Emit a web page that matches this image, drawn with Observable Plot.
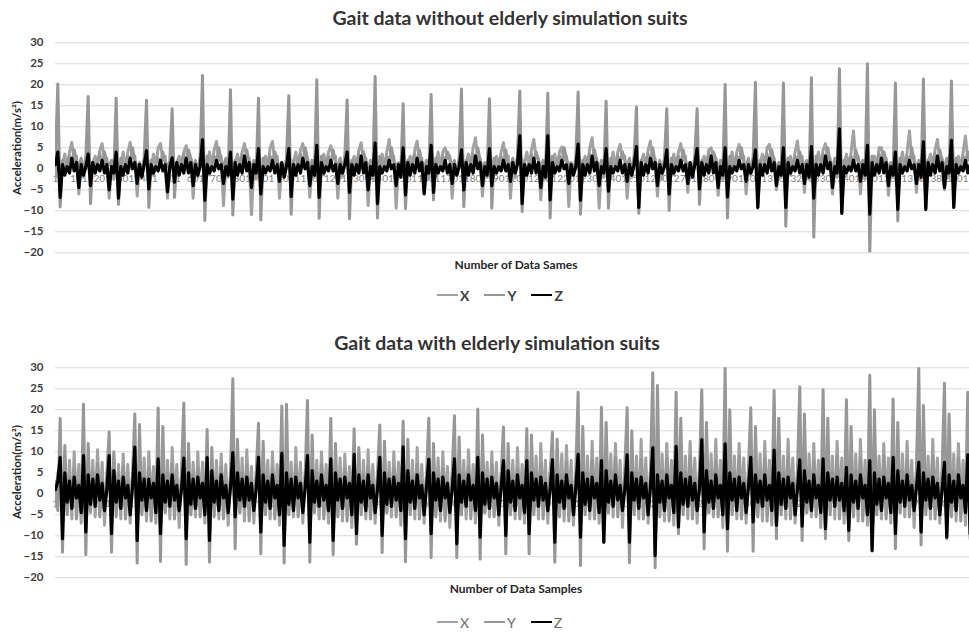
<!DOCTYPE html>
<html><head><meta charset="utf-8">
<script src="https://cdn.jsdelivr.net/npm/d3@7"></script>
<script src="https://cdn.jsdelivr.net/npm/@observablehq/plot@0.6"></script>
<style>
body{margin:0;background:#fff;}
#wrap{position:relative;width:969px;height:633px;overflow:hidden;font-family:Lato,"Liberation Sans",sans-serif;}
.c{position:absolute;transform:translate(-50%,-50%);white-space:nowrap;}
.title{font-size:19.5px;font-weight:bold;color:#333333;}
.ytitle{font-size:11.5px;font-weight:bold;color:#262626;transform:translate(-50%,-50%) rotate(-90deg);}
.xtitle{font-size:12px;font-weight:bold;color:#262626;}
.leg{position:absolute;display:flex;align-items:center;font-size:14px;}
.leg span.ln{display:inline-block;width:21px;height:2.5px;margin:0 2px 0 0;}
.leg span.lb{margin-right:15px;}
.svgbox{position:absolute;left:0;}
</style></head><body><div id="wrap"></div>
<script>
// sample spacing between stored readings (every 10th sample)
const sampleStep = 10;
const yTicks = [-20, -15, -10, -5, 0, 5, 10, 15, 20, 25, 30];
const xTickSamples = [1,101,201,301,401,501,601,701,801,901,1001,1101,1201,1301,1401,1501,1601,1701,1801,1901,2001,2101,2201,2301,2401,2501,2601,2701,2801,2901,3001,3101,3201,3301,3401,3501,3601,3701,3801,3901];
const seriesNames = ["X", "Y", "Z"];

// ---- Gait data without elderly simulation suits ----
const topX = [-2,
4.5,-3,1,3.5,0,4,6.3,2,3,-6,1,-2,2,
5,-2.5,1.5,3,0.5,4.5,6,1.5,2.5,-7,0.5,-2.5,
4,-3.5,1,4,0,4,6.3,2.5,3,-6.5,1,-1.5,2,
5.5,-3,0.5,3.5,0.5,5,6,2,3,-7,0.5,
4,-2.5,1.5,3,0,4,5.5,1.5,2.5,-7,1,-2,2.5,
7,-4,1,4,0.5,4.5,6.5,2,3,-8.8,1,-2,
6,-3.5,1.5,3.5,0,4,6,2.5,2.5,-10.9,0.5,-2.5,
5,-3,1,3,0.5,5,6.5,1.5,3,-7,1,-1.5,2,
5.5,-3.5,1.5,4,0,4.5,6,2,2.5,-6.8,0.5,-2,
6,-4,1,3.5,0.5,4,5.5,2.5,3,-7,1,-2,2.5,
5,-3,1.5,3,0,4.5,6.2,1.5,2.5,-8.8,0.5,-2.5,
8,-4,1,3.5,0,4,7,2,3,-9.4,1,-2,
5,-3,1.5,3,0.5,4.5,6.6,1.5,2.5,-5.6,0.5,-2.5,
5.5,-3.5,1,4,0,4,5,2.5,3,-7,1,-1.5,2,
6,-3,1.5,3.5,0.5,5,7.4,2,2.5,-6.5,0.5,-2,
5,-3.5,1,3,0,4,6.2,1.5,3,-7,1,-2,2.5,
7,-4,1.5,4,0.5,4.5,7,2.5,2.5,-7.4,0.5,-2.5,
6.5,-3,1,3.5,0,4,5.2,2,3,-9,1,-1.5,2,
6,-3.5,1.5,3,0.5,5,7.4,1.5,2.5,-9.4,0.5,-2,
5,-3,1,4,0,4,5.8,2.5,3,-7,1,-2,2.5,
5.5,-4,1.5,3.5,0.5,4.5,6.6,2,2.5,-6.5,0.5,-2.5,2,
5,-3,1,3.5,0,4,6,2,3,-5.6,1,-2,2,
5.5,-3.5,1.5,3,0.5,4.5,5,1.5,2.5,-6.3,0.5,-2.5,
7,-3,1,4,0,4,5.8,2.5,3,-6,1,-1.5,2.5,
6,-4,1.5,3.5,0.5,5,5.8,2,2.5,-5,0.5,-2,
11.5,-3,1,3,0,4,6.6,1.5,3,-5.6,1,-2.5,
8,-3.5,1.5,4,0.5,4.5,6,2.5,2.5,-6,0.5,-2,
9.4,-3,1,3.5,0,4,9,2,3,-6,1,-2.5,
11.5,-4,1.5,3,0.5,5,5,1.5,2.5,-6.3,0.5,-2,
7,-3,1,4,0,4,9,2.5,3,-5.6,1,-2.5,
8,-3.5,1.5,3.5,0.5,4.5,7,2,2.5,-5,0.5,-2,
12.3,-3,1,3,0,4,7.8,2,3];

const topY = [3,
20.2,-9.1,2,-1,1.5,3,1,4.5,2,0.5,2.5,-1,3,
17.2,-8.3,1.5,-0.5,2,3.5,0.5,4,1.5,1,2,-1.5,
16.8,-8.5,2.5,-1,1,3,1.5,5,2,0,1.5,-0.5,2.5,
16.3,-9.2,2,-1.5,1.5,2.5,1,4,1.5,0.5,2,
14.3,-6.8,1.5,-1,2,3.5,0.5,4.5,2.5,0,2,-1,3,
22.2,-12.3,3,-1.5,1,3,1.5,5,2,0.5,2.5,-1.5,
18.8,-11,2,-1,1.5,3.5,1,4.5,1.5,0,2,-1,
16.8,-12.2,2.5,-0.5,1,3,1.5,4,2,0.5,1.5,-1.5,2.5,
17.4,-10.8,2,-1,2,3.5,0.5,5,2.5,0,2,-1,
21.2,-11.8,3,-1.5,1.5,3,1,4.5,1.5,0.5,2.5,-1,3,
16.4,-11.9,2,-1,1,3.5,1.5,4,2,0,2,-1.5,
22,-11.7,3,-1,1.5,3,1,5,2,0.5,1.5,-1,
15.5,-9.5,2,-1.5,2,3.5,0.5,4.5,1.5,0,2,-1,
17.7,-7.4,2.5,-1,1,3,1.5,4,2.5,0.5,2,-1.5,2.5,
19,-9,2,-0.5,1.5,3.5,1,5,2,0,1.5,-1,
16.7,-9.4,2.5,-1,2,3,0.5,4.5,1.5,0.5,2.5,-1,3,
18.5,-10.2,2,-1.5,1,3.5,1.5,4,2,0,2,-1.5,
18,-11.7,3,-1,1.5,3,1,5,2.5,0.5,1.5,-1,2.5,
18.3,-10.8,2,-1,2,3.5,0.5,4.5,1.5,0,2,-1,
16.1,-9.4,2.5,-0.5,1,3,1.5,4,2,0.5,2.5,-1.5,3,
14.7,-10.6,2,-1,1.5,3.5,1,5,1.5,0,2,-1,2.5,
14.3,-9.9,2.5,-1.5,2,3,0.5,4.5,2,0.5,1.5,-1,3,
14.3,-8.5,2,-1,1,3.5,1.5,4,2.5,0,2,-1.5,
20.1,-11.7,3,-1,1.5,3,1,5,1.5,0.5,2.5,-1,2.5,
20.6,-9.4,2,-0.5,2,3.5,0.5,4.5,2,0,1.5,-1,
20.4,-13.7,2.5,-1.5,1,3,1.5,4,2,0.5,2,-1.5,
21.7,-16.3,3,-1,1.5,3.5,1,5,1.5,0,2.5,-1,
23.8,-10.6,2,-1,2,3,0.5,4.5,2.5,0.5,2,-1.5,
25,-20,3,-1.5,1,3.5,1.5,4,2,0,1.5,-1,
20.4,-12.4,2.5,-1,1.5,3,1,5,1.5,0.5,2,-1.5,
21.4,-9.5,2,-0.5,2,3.5,0.5,4.5,2,0,2.5,-1,
20.9,-8.7,2.5,-1,1,3,1.5,4,2];

const topZ = [1,
4,-6.8,1,-1.5,0.5,-1,2.5,-0.5,1.5,-4.5,1,-1.5,0.5,
3.5,-4,1.5,-1,1,-0.5,2,-1,1,-5,0.5,-1,
4,-7,0.5,-1.5,1,-1,2.5,0,1.5,-3.5,1,-2,1,
4.3,-4.8,1,-1,0.5,-0.5,2,-0.5,1,-5.5,0.5,
2.6,-3.2,1.5,-1.5,1,-1,2.5,-1,1.5,-4,1,-1.5,0.5,
6.9,-7.5,1,-1,0.5,-0.5,2,0,1,-3.5,0.5,-1.5,
4,-7.2,1.5,-1.5,1,-1,3,-0.5,1.5,-4.5,1,-1,
4.8,-6,0.5,-1,0.5,-0.5,2,-1,1,-3,1.5,-2,0.5,
4.8,-6.6,1,-1.5,1,-1,2.5,0,1.5,-4,0.5,-1.5,
5.6,-6.8,1.5,-1,0.5,-0.5,2,-0.5,1,-3.5,1,-1,1,
4,-5.6,1,-1.5,1,-1,3,-1,1.5,-5,0.5,-1.5,
6.1,-8.3,0.5,-1,0.5,-0.5,2,0,1,-4,1,-2,
5,-6.2,1.5,-1.5,1,-1,2.5,-0.5,1.5,-6,0.5,-1,
5.6,-5.6,1,-1,0.5,-0.5,2,-1,1,-3.5,1,-1.5,0.5,
4.5,-5,1.5,-1.5,1,-1,3,0,1.5,-4,0.5,-1.5,
4.8,-4,0.5,-1,0.5,-0.5,2,-0.5,1,-3,1.5,-1,1,
7.9,-8.3,1,-1.5,1,-1,2.5,-1,1.5,-4.5,0.5,-2,
7.9,-7.4,1.5,-1,0.5,-0.5,2,0,1,-3.5,1,-1.5,0.5,
5.9,-7.5,1,-1.5,1,-1,3,-0.5,1.5,-4,0.5,-1,
4.8,-5.3,0.5,-1,0.5,-0.5,2,-1,1,-3,1,-1.5,1,
5.3,-9.2,1.5,-1.5,1,-1,2.5,0,1.5,-4,1,-1,0.5,
4.5,-6,1,-1,0.5,-0.5,2,-0.5,1,-3.5,1.5,-2,1,
4.8,-4.8,1.5,-1.5,1,-1,3,-1,1.5,-4.5,0.5,-1.5,
5,-6.7,0.5,-1,0.5,-0.5,2,0,1,-3,1,-1,0.5,
4.5,-9.2,1,-1.5,1,-1,2.5,-0.5,1.5,-4,0.5,-1.5,
5,-9.2,1.5,-1,0.5,-0.5,2,-1,1,-3.5,1,-2,
5.3,-7,1,-1.5,1,-1,3,0,1.5,-4.5,0.5,-1,
9.5,-10.6,0.5,-1,0.5,-0.5,2,-0.5,1,-3,1,-1.5,
5.6,-10.8,1.5,-1.5,1,-1,2.5,-1,1.5,-4,0.5,-1.5,
4,-9.7,1,-1,0.5,-0.5,2,0,1,-3.5,1,-2,
6.4,-9.7,1.5,-1.5,1,-1,3,-0.5,1.5,-4.5,0.5,-1,
6.8,-9.2,1,-1,0.5,-0.5,2,-1,1];

// ---- Gait data with elderly simulation suits ----
const botX = [-3,5,
7,-7,9,-4,8,-6,10,-3,7,-7,
6,-6.5,8.5,-4.5,8,-5.5,10.5,-3,7.5,-7.5,4,
7.5,-7,9,-4,7,-6,9.5,-3.5,7,-7,4.5,
8,-7.5,8,-4.5,8.5,-6.5,10,-3,6.5,-7,
6.5,-7,9.5,-4,8,-6,11,-3,7,-8,4,
7,-6.5,9,-4.5,7.5,-5.5,10,-3.5,7.5,-7,
7.5,-7,8.5,-4,8,-6,9.5,-3,7,-7.5,4.5,
6,-7.5,9,-4.5,8.5,-6.5,10.5,-3,6.5,-7,4,
7,-7,9.5,-4,8,-6,10,-3.5,7,-7.5,
8,-6.5,9,-4.5,7.5,-5.5,11,-3,7.5,-7,4.5,
6.5,-7,8.5,-4,8,-6,10,-3,7,-7,
7.5,-7.5,9,-4.5,8.5,-6.5,9.5,-3.5,6.5,-8,
7,-7,9.5,-4,8,-6,10.5,-3,7,-7,4,
6,-6.5,9,-4.5,7.5,-5.5,10,-3,7.5,-7.5,
7.5,-7,8.5,-4,8,-6,11,-3.5,7,-7,4.5,
8,-7.5,9,-4.5,8.5,-6.5,10,-3,6.5,-8,4,
7,-7,9.5,-4,8,-6,10.5,-3,7,-7,
6.5,-6.5,9,-4.5,7.5,-5.5,10,-3.5,7.5,-7.5,4.5,
7.5,-7,8.5,-4,8,-6,11,-3,7,-7,
8,-7,10,-4,9,-6,12,-3,8,-7,5,
7.5,-7.5,10.5,-4.5,9.5,-6.5,11.5,-3.5,8,-7.5,4.5,
8.5,-7,10,-4,9,-6,12.5,-3,8.5,-7,
8,-6.5,11,-4.5,9.5,-5.5,12,-3,8,-8,5,
9,-7,10.5,-4,9,-6,13,-3.5,8.5,-7,5,
8,-7.5,10,-4.5,9.5,-6.5,12,-3,8,-7.5,
9,-7,11,-4,9,-6,12.5,-3,8.5,-7,4.5,
8.5,-6.5,10,-4.5,9.5,-5.5,13,-3.5,8,-8,
8,-7,10.5,-4,9,-6,12,-3,8.5,-7,5,
9,-7.5,11,-4.5,9.5,-6.5,12.5,-3,8,-7.5,
8.5,-7,10,-4,9,-6,13,-3.5,8.5,-7,4.5,
8,-6.5,10.5,-4.5,9.5,-5.5,12,-3,8,-8,
9,-7,11,-4,9,-6,12.5,-3,8.5,-7,
8.5,-7.5,10,-4.5,9.5,-6.5,13,-3.5,8,-7.5,
8,-7,10.5,-4,9,-6,12,-3,8.5,-7,
9,-7,11,-4.5,9.5,-5.5,12.5,-3,8,-8,5,
8.5,-6.5,10,-4,9,-6,13,-3.5,8.5,-7,4.5,
8,-7.5,10.5,-4.5,9.5,-6.5,12,-3,8,-7.5,
9,-7];

const botY = [3,-4,
17.9,-13.9,11.5,-5,4,-3,6,-6,3,-4,
21.3,-14.5,12,-4,5,-2.5,7,-5.5,3.5,-4.5,5,
14.7,-13.9,10,-5.5,4.5,-3,6.5,-6,3,-4,4.5,
19,-16.5,16.5,-5,4,-3.5,6,-6.5,3,-4,
20.4,-16.1,16,-4.5,5,-3,7,-6,3.5,-4.5,5,
21.6,-16.8,12,-5,4.5,-2.5,6,-5.5,3,-4,
15.3,-16.3,11,-5.5,4,-3,6.5,-6,3,-5,4.5,
27.4,-13.1,13,-4.5,5,-3.5,7,-6.5,3.5,-4,5,
16.8,-14.3,12.5,-5,4,-3,6,-6,3,-4.5,
20.9,-16.5,21.3,-5,4.5,-2.5,6.5,-5.5,3,-4,4.5,
22.2,-16.3,14,-4.5,5,-3,7,-6,3.5,-4.5,
18,-14.5,12,-5.5,4,-3.5,6,-6.5,3,-4,
15.5,-12,11,-5,4.5,-3,6.5,-6,3,-5,5,
16.4,-14,12.5,-4.5,5,-2.5,6,-5.5,3.5,-4,
17.3,-16.2,13,-5,4,-3,7,-6,3,-4.5,4.5,
18,-15.2,12,-5.5,4.5,-3.5,6,-6.5,3,-4,5,
18.6,-15.2,13.5,-5,5,-3,6.5,-6,3.5,-4.5,
20.2,-15.6,14,-4.5,4,-2.5,7,-5.5,3,-4,4.5,
15.9,-14.3,12,-5,4.5,-3,6,-6,3,-5,
15.5,-14.3,14,-5,5,-3,7,-6,3.5,-4.5,5,
14.7,-16.3,13,-5.5,4.5,-3.5,7.5,-6.5,3,-4,5.5,
24.2,-17.1,16,-5,5,-3,8,-6,3.5,-4.5,
20.6,-11.5,17,-4.5,5.5,-2.5,8.5,-5.5,4,-4,6,
20.5,-16.4,15,-5,5,-3,8,-6,3.5,-5,5.5,
28.8,-17.6,25.8,-5.5,5.5,-3.5,8.5,-6.5,4,-4.5,
24.2,-9.5,18,-5,5,-3,9,-6,3.5,-4,6,
24.8,-13.1,17,-4.5,5.5,-2.5,8,-5.5,4,-4.5,
30,-13.7,20,-5,5,-3,9,-6,3.5,-5,6,
20.5,-13.7,16,-5.5,5.5,-3.5,8.5,-6.5,4,-4,
24.6,-10.7,18,-5,5,-3,9,-6,3.5,-4.5,5.5,
25.5,-11.1,19,-4.5,5.5,-2.5,8,-5.5,4,-4,
24.8,-10.7,18,-5,5,-3,9,-6,3.5,-5,
22.4,-11.1,16,-5.5,5.5,-3.5,8.5,-6.5,4,-4.5,
28.2,-13.7,20,-5,5,-3,9,-6,3.5,-4,
22.6,-13.1,17,-4.5,5.5,-2.5,8,-5.5,4,-4.5,6,
30,-12.2,21,-5,5,-3,9,-6,3.5,-5,5.5,
26.3,-10.7,19,-5.5,5.5,-3.5,8.5,-6.5,4,-4,
24.2,-10.7];

const botZ = [1,3,
8.6,-10.7,5,-2,3,-3.5,4,-1,2,-4.5,
9.1,-9.1,4.5,-2.5,3.5,-3,4.5,-1.5,2.5,-4,1,
9.1,-9.5,5.5,-2,3,-3.5,4,-1,2,-5,1.5,
11.1,-11.1,5,-1.5,3.5,-4,3.5,-1,2.5,-4.5,
8.3,-9.5,4.5,-2,3,-3,4.5,-1.5,2,-4,1,
8.5,-10.7,5,-2.5,3.5,-3.5,4,-1,2.5,-5,
8.6,-11.1,5.5,-2,3,-4,4.5,-1,2,-4.5,1.5,
9.8,-5.5,5,-1.5,3.5,-3,4,-1.5,2.5,-4,1,
8.7,-9.1,4.5,-2,3,-3.5,4.5,-1,2,-5,
9.7,-12.3,5,-2.5,3.5,-4,4,-1,2.5,-4.5,1.5,
9.1,-11.5,5.5,-2,3,-3,4.5,-1.5,2,-4,
8.3,-11.1,5,-1.5,3.5,-3.5,4,-1,2.5,-5,
9.4,-9.5,4.5,-2,3,-4,4.5,-1,2,-4.5,1,
8.7,-9.9,5,-2.5,3.5,-3,4,-1.5,2.5,-4,
11.2,-10.7,5.5,-2,3,-3.5,4.5,-1,2,-5,1.5,
8.2,-9.5,5,-1.5,3.5,-4,4,-1,2.5,-4.5,1,
8.3,-11.9,4.5,-2,3,-3,4.5,-1.5,2,-4,
8.7,-10.3,5,-2.5,3.5,-3.5,4,-1,2.5,-5,1.5,
7.9,-9.9,5.5,-2,3,-4,4.5,-1,2,-4.5,
7.9,-9.5,5,-1.5,3.5,-3,4,-1.5,2.5,-4,1,
8.1,-11.5,4.5,-2,3,-3.5,4.5,-1,2,-5,1.5,
9.4,-10.3,5,-2.5,3.5,-4,4,-1,2.5,-4.5,
7.9,-11.5,5.5,-2,3,-3,4.5,-1.5,2,-4,1,
9.3,-11.5,5,-1.5,3.5,-3.5,4,-1,2.5,-5,1.5,
11,-14.7,4.5,-2,3,-4,4.5,-1,2,-4.5,
11.3,-7.9,5,-2.5,3.5,-3,4,-1.5,2.5,-4,1,
12.9,-9.1,5.5,-2,3,-3.5,4.5,-1,2,-5,
11.9,-8.3,5,-1.5,3.5,-4,4,-1,2.5,-4.5,1.5,
8.7,-6.7,4.5,-2,3,-3,4.5,-1.5,2,-4,
10.4,-7.5,5,-2.5,3.5,-3.5,4,-1,2.5,-5,1,
8.1,-7.7,5.5,-2,3,-4,4.5,-1,2,-4.5,
8.3,-8.3,5,-1.5,3.5,-3,4,-1.5,2.5,-4,
6.3,-8.7,4.5,-2,3,-3.5,4.5,-1,2,-5,
7.9,-13.5,5,-2.5,3.5,-4,4,-1,2.5,-4.5,
8.7,-9.5,5.5,-2,3,-3,4.5,-1.5,2,-4,1.5,
7.5,-9.1,5,-1.5,3.5,-3.5,4,-1,2.5,-5,1,
7.5,-10.3,4.5,-2,3,-4,4.5,-1,2,-4.5,
9.3,-9.5];

const seriesColors = {X: "#a2a2a2", Y: "#979797", Z: "#000000"};
const seriesWidths = {X: 3, Y: 3, Z: 3.2};

function rows(values, name) {
  return values.map((v, i) => ({sample: 1 + i * sampleStep, value: v, series: name}));
}

function panel(xs, ys, zs) {
  const sets = [rows(xs, "X"), rows(ys, "Y"), rows(zs, "Z")];
  const lastTick = xTickSamples[xTickSamples.length - 1];
  return Plot.plot({
    width: 969, height: 275,
    marginLeft: 55, marginRight: 0, marginTop: 42.3, marginBottom: 22.7,
    style: {fontFamily: "Lato, 'Liberation Sans', sans-serif", background: "transparent", overflow: "visible"},
    x: {domain: [1, 3921], range: [55, 969.6], axis: null},
    y: {domain: [-20, 30], axis: null},
    marks: [
      Plot.gridY(yTicks, {stroke: "#d9d9d9", strokeOpacity: 1, strokeWidth: 1}),
      Plot.axisY(yTicks, {tickSize: 0, tickPadding: 12, fontSize: 11.5, fontWeight: "bold", fill: "#404040", label: null}),
      Plot.ruleY([0], {stroke: "#d9d9d9", strokeWidth: 1}),
      Plot.text(xTickSamples.filter(d => d !== lastTick), {x: d => d, y: 0, text: d => String(d), dy: 10, fill: "#7f7f7f", fontSize: 10}),
      Plot.text([lastTick], {x: d => d, y: 0, text: d => String(d), dy: 10, dx: 3, textAnchor: "end", fill: "#7f7f7f", fontSize: 10}),
      ...sets.map(s => Plot.line(s, {x: "sample", y: "value", stroke: seriesColors[s[0].series], strokeWidth: seriesWidths[s[0].series], strokeLinejoin: "round", clip: true}))
    ]
  });
}

const wrap = document.getElementById("wrap");
function addDiv(cls, text, left, top, extra) {
  const d = document.createElement("div");
  d.className = cls; d.textContent = text;
  d.style.left = left + "px"; d.style.top = top + "px";
  if (extra) Object.assign(d.style, extra);
  wrap.appendChild(d);
  return d;
}
function addLegend(top, bold) {
  const lg = document.createElement("div");
  lg.className = "leg";
  lg.style.left = "437px"; lg.style.top = (top - 9) + "px"; lg.style.height = "18px";
  seriesNames.forEach((n) => {
    const ln = document.createElement("span"); ln.className = "ln"; ln.style.background = seriesColors[n];
    const lb = document.createElement("span"); lb.className = "lb"; lb.textContent = n;
    lb.style.fontWeight = bold ? "bold" : "normal";
    lb.style.color = bold ? "#404040" : "#6a6a6a";
    lg.appendChild(ln); lg.appendChild(lb);
  });
  wrap.appendChild(lg);
}

const box1 = document.createElement("div"); box1.className = "svgbox"; box1.style.top = "0px";
box1.appendChild(panel(topX, topY, topZ)); wrap.appendChild(box1);
const box2 = document.createElement("div"); box2.className = "svgbox"; box2.style.top = "325px";
box2.appendChild(panel(botX, botY, botZ)); wrap.appendChild(box2);

addDiv("c title", "Gait data without elderly simulation suits", 510, 17);
addDiv("c title", "Gait data with elderly simulation suits", 497, 342);
addDiv("c ytitle", "Acceleration(m/s²)", 16, 148);
addDiv("c ytitle", "Acceleration(m/s²)", 16, 472);
addDiv("c xtitle", "Number of Data Sames", 516, 264);
addDiv("c xtitle", "Number of Data Samples", 516, 588);
addLegend(295, true);
addLegend(622, false);
</script>
</body></html>
